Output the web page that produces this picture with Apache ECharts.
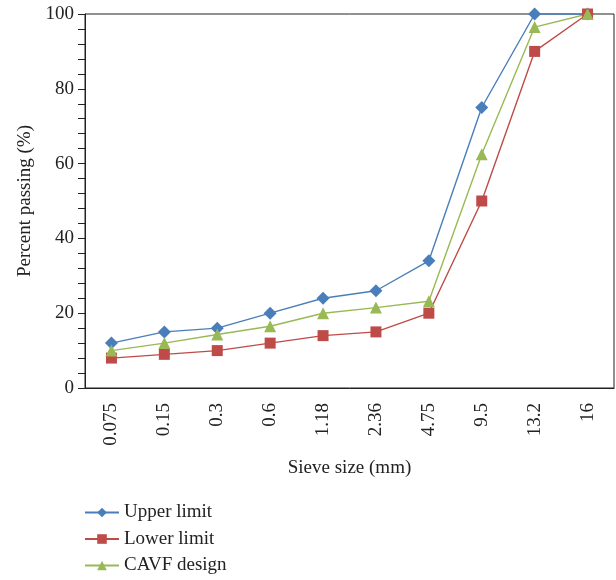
<!DOCTYPE html>
<html><head><meta charset="utf-8">
<script src="https://cdn.jsdelivr.net/npm/echarts@6/dist/echarts.min.js"></script>
<style>html,body{margin:0;padding:0;background:#fff}#c{width:616px;height:580px}</style>
</head><body><div id="c"></div>
<script>
const categories = ['0.075','0.15','0.3','0.6','1.18','2.36','4.75','9.5','13.2','16'];
const upperLimit = [12,15,16,20,24,26,34,75,100,100];
const lowerLimit = [8,9,10,12,14,15,20,50,90,100];
const cavfDesign = [10,12,14.3,16.5,20,21.5,23.2,62.5,96.5,100];
const yTicks = [0,20,40,60,80,100];

const FONT = '"Liberation Serif","DejaVu Serif",serif';
const chart = echarts.init(document.getElementById('c'));
chart.setOption({
  animation:false,
  grid:{left:85,right:2,top:14,bottom:192,show:true,borderColor:'#222',borderWidth:1,backgroundColor:'transparent'},
  legend:{orient:'vertical',left:84,top:503,padding:0,itemWidth:34,itemHeight:12,itemGap:7.5,
    textStyle:{fontFamily:FONT,fontSize:19,color:'#222',lineHeight:19},
    data:['Upper limit','Lower limit','CAVF design']},
  xAxis:[{type:'category',data:categories,position:'bottom',
    axisLine:{lineStyle:{color:'#222'}},
    axisTick:{inside:true,length:6,lineStyle:{color:'#222'}},
    axisLabel:{rotate:90,fontFamily:FONT,fontSize:19,color:'#222',margin:15},
    name:'Sieve size (mm)',nameLocation:'middle',nameGap:71,
    nameTextStyle:{fontFamily:FONT,fontSize:19,color:'#222'}},
    {type:'category',data:categories,position:'bottom',
    axisLine:{show:false},
    axisTick:{inside:true,alignWithLabel:true,length:6,lineStyle:{color:'#222'}},
    axisLabel:{show:false}}],
  yAxis:{type:'value',min:yTicks[0],max:yTicks[yTicks.length-1],interval:20,
    axisLine:{show:true,lineStyle:{color:'#222'}},
    axisTick:{show:true,length:7,lineStyle:{color:'#222'}},
    minorTick:{show:true,splitNumber:5,length:7,lineStyle:{color:'#222'}},
    splitLine:{show:false},
    axisLabel:{fontFamily:FONT,fontSize:19,color:'#222',margin:11},
    name:'Percent passing (%)',nameLocation:'middle',nameGap:50,
    nameTextStyle:{fontFamily:FONT,fontSize:19,color:'#222'}},
  series:[
    {name:'Upper limit',type:'line',data:upperLimit,symbol:'diamond',symbolSize:13,
     lineStyle:{color:'#4a7ebb',width:1.4},itemStyle:{color:'#4a7ebb'}},
    {name:'Lower limit',type:'line',data:lowerLimit,symbol:'rect',symbolSize:11,
     lineStyle:{color:'#be4b48',width:1.4},itemStyle:{color:'#be4b48'}},
    {name:'CAVF design',type:'line',data:cavfDesign,symbol:'triangle',symbolSize:12,
     lineStyle:{color:'#98b954',width:1.4},itemStyle:{color:'#98b954'}}
  ]
});
</script></body></html>
